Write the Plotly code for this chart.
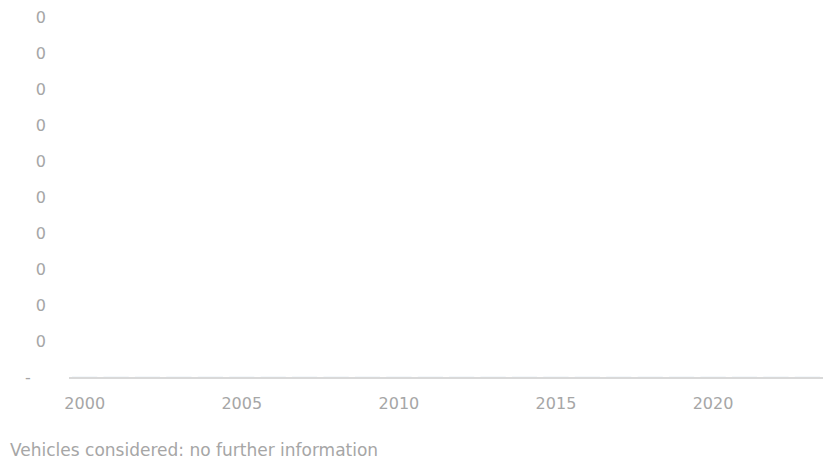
import plotly.graph_objects as go

# Data: no visible values, the series is empty/zero
years = [2000, 2001, 2002, 2003, 2004, 2005, 2006, 2007, 2008, 2009, 2010, 2011,
         2012, 2013, 2014, 2015, 2016, 2017, 2018, 2019, 2020, 2021, 2022, 2023]
values = [0, 0, 0, 0, 0, 0, 0, 0, 0, 0, 0, 0,
          0, 0, 0, 0, 0, 0, 0, 0, 0, 0, 0, 0]

x_ticks = [2000, 2005, 2010, 2015, 2020]
y_ticks = [0, 1, 2, 3, 4, 5, 6, 7, 8, 9, 10]
y_labels = ["-\u00a0\u00a0\u00a0", "0", "0", "0", "0", "0", "0", "0", "0", "0", "0"]

note = "Vehicles considered: no further information"

GREY = "#a6a6a6"
FONT = "DejaVu Sans"

# page body adds an 8px margin, so the figure is 8px smaller each way
fig = go.Figure()
fig.add_trace(go.Bar(x=years, y=values, marker_color="#4a7ebb", showlegend=False))

fig.update_layout(
    width=824,
    height=455,
    margin=dict(l=61, r=9, t=8, b=86),
    paper_bgcolor="white",
    plot_bgcolor="white",
    font=dict(family=FONT, size=16, color=GREY),
    annotations=[
        dict(text=note, xref="paper", yref="paper", x=-61 / 754, y=-73 / 361,
             xanchor="left", yanchor="middle", showarrow=False,
             font=dict(family=FONT, size=17, color=GREY)),
    ],
)
fig.update_xaxes(
    range=[1999.5, 2023.5],
    tickvals=x_ticks,
    showgrid=False,
    zeroline=False,
    showline=True,
    linecolor="#d9d9d9",
    linewidth=1.5,
    ticks="",
    ticklabelstandoff=11,
    automargin=False,
    tickfont=dict(family=FONT, size=16, color=GREY),
)
fig.update_yaxes(
    range=[0, 10.03],
    tickvals=y_ticks,
    ticktext=y_labels,
    showgrid=False,
    zeroline=False,
    showline=False,
    ticks="",
    ticklabelstandoff=22,
    ticklabeloverflow="allow",
    automargin=False,
    tickfont=dict(family=FONT, size=16, color=GREY),
)

fig.write_html("out.html")
